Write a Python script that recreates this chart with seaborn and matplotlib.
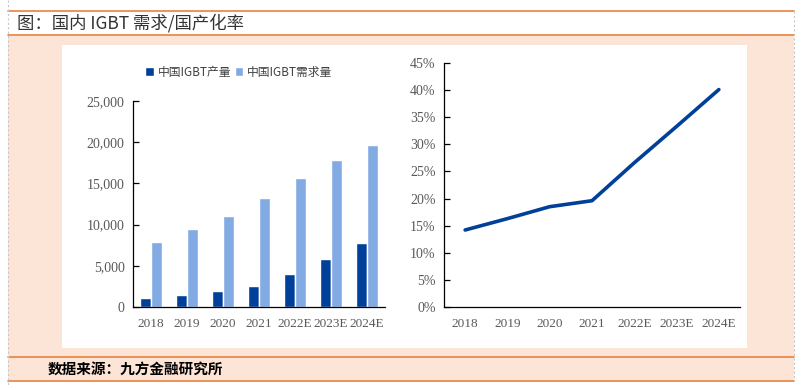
import matplotlib
matplotlib.use("Agg")
import pandas as pd
import matplotlib.pyplot as plt
import seaborn as sns
from matplotlib.patches import Rectangle
from matplotlib.lines import Line2D
from matplotlib.ticker import FuncFormatter

# data
years = ["2018", "2019", "2020", "2021", "2022E", "2023E", "2024E"]
output_vals = [1050, 1500, 1950, 2500, 4050, 5850, 7800]
demand_vals = [7900, 9500, 11000, 13250, 15600, 17900, 19600]
local_rate = [0.142, 0.163, 0.185, 0.196, 0.266, 0.333, 0.401]
series_names = ["中国IGBT产量", "中国IGBT需求量"]

title_text = "图：国内 IGBT 需求/国产化率"
source_text = "数据来源：九方金融研究所"

DARK = "#004098"
LIGHT = "#82aae3"
PEACH = "#fce4d6"
ORANGE = "#e9823e"
TICK = "#595959"

sns.set_theme(style="white")
plt.rcParams["font.family"] = ["Liberation Serif", "Noto Sans CJK SC", "DejaVu Sans"]

W, H = 804, 390
fig = plt.figure(figsize=(W / 100, H / 100), dpi=100)
fig.patch.set_facecolor("white")


def box(x0, y0, x1, y1):
    # pixel box (top-left origin) -> figure fraction rect
    return [x0 / W, 1 - y1 / H, (x1 - x0) / W, (y1 - y0) / H]


def add_rect(x0, y0, x1, y1, color):
    l, b, w, h = box(x0, y0, x1, y1)
    fig.patches.append(Rectangle((l, b), w, h, transform=fig.transFigure,
                                 facecolor=color, edgecolor="none", zorder=-5))


def hline(y, x0, x1, color, lw=1.2, ls="-"):
    fig.lines.append(Line2D([x0 / W, x1 / W], [1 - y / H, 1 - y / H],
                            transform=fig.transFigure, color=color, lw=lw, ls=ls,
                            zorder=-4))


def vline(x, y0, y1, color, lw=1.0, ls="-"):
    fig.lines.append(Line2D([x / W, x / W], [1 - y0 / H, 1 - y1 / H],
                            transform=fig.transFigure, color=color, lw=lw, ls=ls,
                            zorder=-4))


# page frame
add_rect(8, 35, 794, 381, PEACH)
add_rect(62, 45, 747, 348, "white")
hline(11, 8, 794, ORANGE)
hline(35, 8, 794, ORANGE)
hline(357, 8, 794, ORANGE)
hline(381, 8, 794, ORANGE)
vline(8, 0, 385, "#c8c8c8", lw=0.8, ls=(0, (2, 2)))
vline(794, 11, 381, "#c8c8c8", lw=0.8, ls=(0, (2, 2)))

fig.text(17 / W, 1 - 23 / H, title_text, fontsize=12.5, color="#333333",
         va="center", ha="left", family=["Noto Sans CJK SC", "DejaVu Sans"])
fig.text(48 / W, 1 - 369 / H, source_text, fontsize=10.5, color="black",
         fontweight="bold", va="center", ha="left",
         family=["Noto Sans CJK SC", "DejaVu Sans"])

# left: bar chart
df = pd.DataFrame({
    "year": years * 2,
    "value": output_vals + demand_vals,
    "series": [series_names[0]] * len(years) + [series_names[1]] * len(years),
})
ax1 = fig.add_axes(box(133, 101, 385, 307))
sns.barplot(data=df, x="year", y="value", hue="series", ax=ax1,
            palette=[DARK, LIGHT], width=0.6, saturation=1)
ax1.set_ylim(0, 25000)
ax1.set_xlim(-0.5, 6.5)
ax1.set_yticks(range(0, 25001, 5000))
ax1.yaxis.set_major_formatter(FuncFormatter(lambda v, p: f"{int(v):,}"))
ax1.set_xlabel("")
ax1.set_ylabel("")
leg = ax1.legend(loc="center", bbox_to_anchor=(0.42, 1.14), ncol=2, frameon=False,
                 handlelength=0.7, handleheight=0.7, handletextpad=0.35,
                 columnspacing=0.3, fontsize=8.5)
for t in leg.get_texts():
    t.set_color("#404040")
    t.set_family(["Noto Sans CJK SC", "DejaVu Sans"])

# right: localisation rate line
ax2 = fig.add_axes(box(444, 63, 740, 307))
sns.lineplot(x=years, y=local_rate, ax=ax2, color=DARK, linewidth=2.6, sort=False)
ax2.set_ylim(0, 0.45)
ax2.set_xlim(-0.5, 6.5)
ax2.set_yticks([i * 0.05 for i in range(10)])
ax2.yaxis.set_major_formatter(FuncFormatter(lambda v, p: f"{round(v * 100)}%"))

for ax in (ax1, ax2):
    ax.set_zorder(2)
    ax.patch.set_alpha(0)
    for s in ("top", "right"):
        ax.spines[s].set_visible(False)
    for s in ("left", "bottom"):
        ax.spines[s].set_color("black")
        ax.spines[s].set_linewidth(0.9)
    ax.tick_params(axis="y", direction="in", length=4, width=0.9, color="black",
                   labelsize=10, labelcolor=TICK, pad=6, left=True)
    ax.tick_params(axis="x", length=0, labelsize=9.5, labelcolor=TICK, pad=8)
    ax.grid(False)

fig.savefig("out.png", dpi=100)
